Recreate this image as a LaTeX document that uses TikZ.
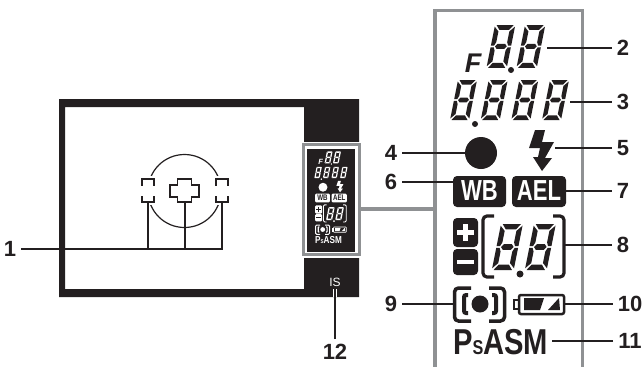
\documentclass[tikz,border=0pt]{standalone}
\usepackage{fontspec}
\setmainfont{Liberation Sans}
\definecolor{ink}{HTML}{231F20}
\definecolor{panelgray}{HTML}{8F9193}
\newcommand{\segdigit}[3]{
  \begin{scope}[shift={(#1,#2)},scale=#3,xslant=.2]
    \fill[lcdfg]
      (1.5,0)--(17.5,0)--(14,4.6)--(5,4.6)--cycle
      (1.5,40)--(17.5,40)--(14,35.4)--(5,35.4)--cycle
      (4,20)--(6,17.6)--(13,17.6)--(15,20)--(13,22.4)--(6,22.4)--cycle
      (0,1.5)--(4.4,6)--(4.4,16)--(3,19.2)--(0,19.2)--cycle
      (0,20.8)--(3,20.8)--(4.4,24)--(4.4,34)--(0,38.5)--cycle
      (19,1.5)--(14.6,6)--(14.6,16)--(16,19.2)--(19,19.2)--cycle
      (19,20.8)--(16,20.8)--(14.6,24)--(14.6,34)--(19,38.5)--cycle;
  \end{scope}
}
\tikzset{
  lead/.style={ink,line width=1.8pt},
  lab/.style={text=ink,font=\fontsize{22}{22}\selectfont\bfseries,inner sep=5pt},
  panel/.style={panelgray,line width=3.8pt},
  afmark/.style={ink,line width=1.2pt},
  afmask/.style={draw=white,fill=white,line width=5.5pt,outer sep=0pt,inner sep=0pt,minimum width=12pt,minimum height=23pt},
  pics/lcd/.style n args={3}{code={
    \colorlet{lcdfg}{#1}
    \colorlet{lcdbg}{#2}
    % aperture and shutter digits
    \node[transform shape,text=lcdfg,inner sep=0pt,font=\fontsize{27}{27}\selectfont\bfseries\itshape] (fnum) at (473,63.5) {F};
    \segdigit{495}{25}{1.07}
    \segdigit{525}{25}{1.07}
    \fill[lcdfg] (511,70) circle (3);
    \foreach \x in {458,488.7,519.3,550} {
      \segdigit{\x}{80}{1}
    }
    \fill[lcdfg] (475,124) circle (3);
    % focus dot and flash
    \fill[lcdfg] (481,153) circle (16);
    \fill[lcdfg] (535,130)--(545,130)--(542,142)--(554,142)--(545,158)--(552,158)--(542,171)--(533,157)--(538,157)--(540,148)--(529,148)--cycle;
    % wb and ael boxes
    \fill[lcdfg,rounded corners=#3*4pt] (453,176) rectangle (506,207);
    \fill[lcdfg,rounded corners=#3*4pt] (512,176) rectangle (566,207);
    \node[transform shape,text=lcdbg,inner sep=0pt,font=\fontsize{29}{29}\selectfont\bfseries] (wbtext) at (479.5,191) {\scalebox{.76}[1]{WB}};
    \node[transform shape,text=lcdbg,inner sep=0pt,font=\fontsize{29}{29}\selectfont\bfseries] (aeltext) at (539,191) {\scalebox{.76}[1]{AEL}};
    % exposure compensation
    \fill[lcdfg,rounded corners=#3*4pt] (453,218) rectangle (478,247);
    \fill[lcdfg,rounded corners=#3*4pt] (453,249) rectangle (478,275);
    \draw[lcdbg,line width=#3*4.5pt] (457,232.5) -- (474,232.5) (465.5,224) -- (465.5,241);
    \draw[lcdbg,line width=#3*4.5pt] (457,262) -- (474,262);
    \draw[lcdfg,line width=#3*3.2pt,rounded corners=#3*4pt] (494,216) -| (483,277) -- (494,277);
    \draw[lcdfg,line width=#3*3.2pt,rounded corners=#3*4pt] (553,216) -| (564,277) -- (553,277);
    \segdigit{501}{224}{1.15}
    \segdigit{534}{224}{1.15}
    \fill[lcdfg] (520,274) circle (3.5);
    % metering mark
    \draw[lcdfg,line width=#3*3.5pt,rounded corners=#3*4pt] (471,288) -| (454.5,321) -- (471,321);
    \draw[lcdfg,line width=#3*3.5pt,rounded corners=#3*4pt] (489,288) -| (504.5,321) -- (489,321);
    \draw[lcdfg,line width=#3*4pt,rounded corners=#3*2pt] (468,295) -| (464,313) -- (468,313);
    \draw[lcdfg,line width=#3*4pt,rounded corners=#3*2pt] (492,295) -| (496,313) -- (492,313);
    \fill[lcdfg] (480,304) circle (8.5);
    % battery
    \draw[lcdfg,line width=#3*2.5pt,rounded corners=#3*2pt] (519,295) rectangle (564,314);
    \draw[lcdfg,line width=#3*2pt] (514,300) rectangle (519,309);
    \fill[lcdfg] (524,298)--(544,298)--(540,310)--(524,310)--cycle;
    \fill[lcdfg] (559,298)--(560,310)--(548,310)--cycle;
    % exposure modes
    \node[transform shape,anchor=base west,text=lcdfg,inner sep=0pt,font=\fontsize{36}{36}\selectfont\bfseries] (modes) at (453,354) {\scalebox{.81}[1]{P{\fontsize{20}{20}\selectfont S}ASM}};
  }}
}
\begin{document}
\begin{tikzpicture}[x=1pt,y=-1pt]
  \useasboundingbox (0,0) rectangle (643,367);
  % viewfinder frame
  \fill[ink,even odd rule] (59,99) rectangle (359,297) (65,107) rectangle (304,289);
  \draw[ink,line width=1.2pt] (184.5,191) circle (36.5);
  \node[afmask] (afl) at (148,190.5) {};
  \node[afmask] (afr) at (222,190.5) {};
  \coordinate (afc) at (185,202);
  % af marks, only the corners are drawn
  \foreach \x in {148,222} {
    \draw[afmark] (\x-6,185.5) -- (\x-6,179) -- (\x+6,179) -- (\x+6,185.5);
    \draw[afmark] (\x-6,196) -- (\x-6,202) -- (\x+6,202) -- (\x+6,196);
  }
  \draw[afmark,fill=white] (177.5,179)--(191.5,179)--(191.5,185)--(199,185)--(199,197)--(191.5,197)--(191.5,202)--(177.5,202)--(177.5,197)--(170,197)--(170,185)--(177.5,185)--cycle;
  % display inset
  \fill[white] (300.5,141.5) rectangle (362.5,257.5);
  \draw[panel] (303.5,144.5) rectangle (359.5,254.5);
  \fill[ink] (307,149) rectangle (355,252);
  \pic[scale=.28] (small) at (188.3,144.4) {lcd={white}{ink}{.28}};
  \node[inner sep=0pt,text=white,font=\fontsize{12}{12}\selectfont] (istext) at (335,282) {IS};
  % enlarged panel
  \draw[panel] (435,367) -- (435,10.5) -- (582.5,10.5) -- (582.5,367);
  \draw[panel] (359.5,209) -- (435,209);
  \pic (big) at (0,0) {lcd={ink}{white}{1}};
  % numbers
  \node[lab] (n1) at (10,249) {1};
  \node[lab] (n2) at (623,48) {2};
  \node[lab] (n3) at (623,102) {3};
  \node[lab] (n4) at (391,153) {4};
  \node[lab] (n5) at (623,148) {5};
  \node[lab] (n6) at (391,182) {6};
  \node[lab] (n7) at (623,191) {7};
  \node[lab] (n8) at (623,245) {8};
  \node[lab] (n9) at (391,304) {9};
  \node[lab] (n10) at (630,304) {10};
  \node[lab] (n11) at (630,341) {11};
  \node[lab] (n12) at (335,352) {12};
  % leaders
  \coordinate (t2) at (547,48);
  \coordinate (t3) at (570,102);
  \coordinate (t4) at (466,153);
  \coordinate (t5) at (555,148);
  \coordinate (t6) at (453,182);
  \coordinate (t7) at (566,191);
  \coordinate (t8) at (565,245);
  \coordinate (t9) at (453,304);
  \coordinate (t10) at (565,304);
  \coordinate (t11) at (552,341);
  \coordinate (t12) at (335,289);
  \draw[lead] (n1) -| (afr.south);
  \draw[lead] (afl.south) -- (afl.south |- n1);
  \draw[lead] (afc) -- (afc |- n1);
  \foreach \n in {2,...,11} {
    \draw[lead] (n\n) -- (t\n);
  }
  \draw[white,line width=4pt] (t12) -- (335,297);
  \draw[lead] (n12) -- (t12);
\end{tikzpicture}
\end{document}
